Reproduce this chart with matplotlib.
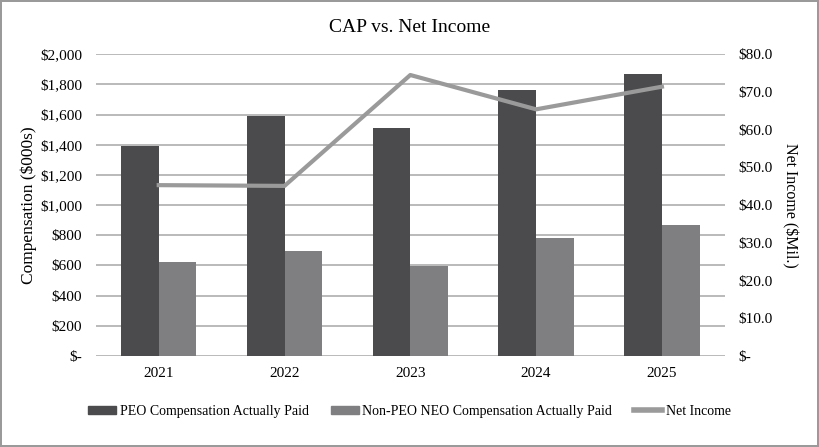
import numpy as np
import matplotlib.pyplot as plt
from matplotlib.patches import Patch
from matplotlib.lines import Line2D

plt.rcParams['font.family'] = ['Liberation Serif', 'DejaVu Serif']

# Datos
anios = ['2021', '2022', '2023', '2024', '2025']
peo_cap = [1392, 1591, 1514, 1760, 1867]
non_peo_cap = [621, 699, 597, 784, 868]
net_income = [45.3, 45.1, 74.5, 65.4, 71.4]

c_peo = '#4b4b4d'
c_non = '#7f7f82'
c_line = '#9a9a9a'
c_grid = '#b4b4b4'

fig = plt.figure(figsize=(8.19, 4.47), dpi=100)
fig.patch.set_edgecolor('#9a9a9a')
fig.patch.set_linewidth(1.5)

ax = fig.add_axes([0.117, 0.2036, 0.768, 0.675])
x = np.arange(len(anios))
w = 0.3

ax.bar(x - w/2, peo_cap, w, color=c_peo, zorder=3)
ax.bar(x + w/2, non_peo_cap, w, color=c_non, zorder=3)
ax.set_ylim(0, 2000)
ax.set_xlim(-0.5, 4.5)
ax.set_yticks(np.arange(0, 2001, 200))
ax.set_yticklabels(['$-'] + [f'${v:,}' for v in range(200, 2001, 200)])
ax.set_xticks(x)
ax.set_xticklabels(anios)
ax.grid(axis='y', color=c_grid, linewidth=1.3, zorder=0)
ax.set_axisbelow(True)
for s in ax.spines.values():
    s.set_visible(False)
ax.tick_params(length=0, labelsize=11, pad=10)
ax.tick_params(axis='x', pad=8)
ax.set_ylabel('Compensation ($000s)', fontsize=12.5, labelpad=2)

ax2 = ax.twinx()
ax2.plot(x, net_income, color=c_line, linewidth=3, zorder=4)
ax2.set_ylim(0, 80)
ax2.set_yticks(np.arange(0, 81, 10))
ax2.set_yticklabels(['$-'] + [f'${v:.1f}' for v in range(10, 81, 10)])
for s in ax2.spines.values():
    s.set_visible(False)
ax2.tick_params(length=0, labelsize=11, pad=10)
ax2.set_ylabel('Net Income ($Mil.)', fontsize=11.5, rotation=270, labelpad=18)

fig.suptitle('CAP vs. Net Income', fontsize=14, y=0.957)

handles = [Patch(color=c_peo), Patch(color=c_non),
           Line2D([0], [0], color=c_line, linewidth=4)]
labels = ['PEO Compensation Actually Paid',
          'Non-PEO NEO Compensation Actually Paid', 'Net Income']
fig.legend(handles, labels, loc='center', bbox_to_anchor=(0.5, 0.08), ncol=3,
           frameon=False, fontsize=10, handlelength=2.0, handleheight=0.5,
           columnspacing=1.6, handletextpad=0.25)

plt.savefig('out.png', dpi=100)
